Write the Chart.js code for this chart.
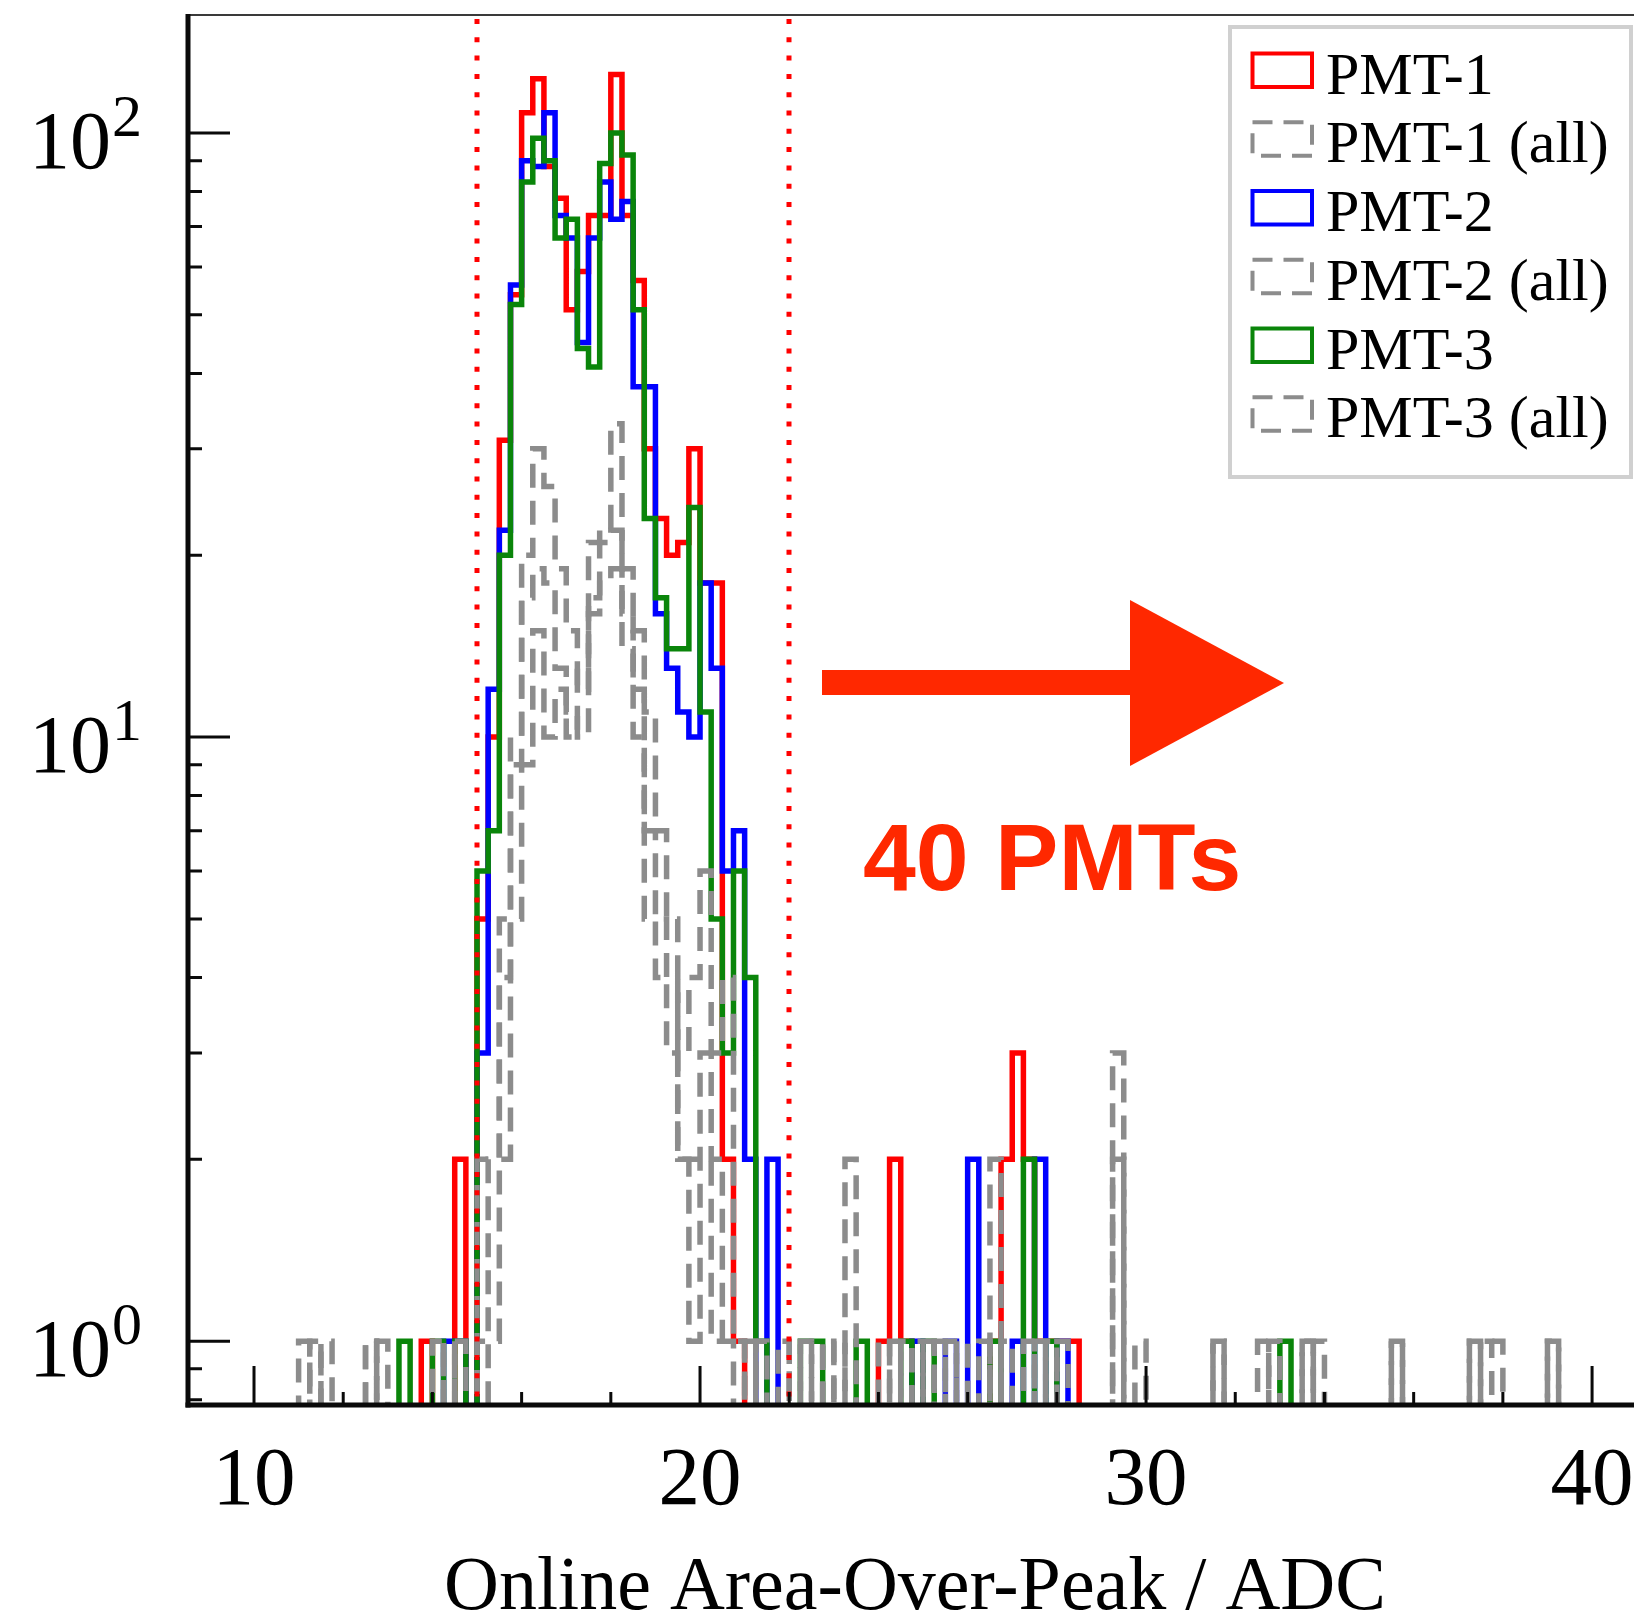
<!DOCTYPE html>
<html>
<head>
<meta charset="utf-8">
<script src="https://cdn.jsdelivr.net/npm/chart.js@4.4.1/dist/chart.umd.min.js"></script>
<style>
  html, body { margin: 0; padding: 0; background: #ffffff; overflow: hidden; }
  canvas { display: block; }
</style>
</head>
<body>
<canvas id="aop" width="1634" height="1622"></canvas>
<script>
// Binning: 120 bins of 0.25 ADC starting at 10 ADC (index 0 = 10.00-10.25)
const binStart = 10.0;
const binWidth = 0.25;

// Event counts per bin, ten bins (2.5 ADC) per row
const pmt1 = [
  0,0,0,0,0,0,0,0,0,0,
  0,0,0,0,0,1,0,0,2,0,
  5,10,31,54,108,123,88,78,51,59,
  73,73,125,73,57,30,23,20,21,30,
  18,18,2,1,0,0,0,0,0,0,
  0,0,0,0,0,0,1,2,1,0,
  0,0,0,0,0,0,1,2,3,2,
  1,1,1,1,0,0,0,0,0,0,
  0,0,0,0,0,0,0,0,0,0,
  0,0,0,0,0,0,0,0,0,0,
  0,0,0,0,0,0,0,0,0,0,
  0,0,0,0,0,0,0,0,0,0
];
const pmt1All = [
  0,0,0,0,1,0,0,0,0,0,
  1,0,0,0,0,0,1,0,0,0,
  2,2,5,10,20,30,26,19,15,12,
  21,22,33,19,15,11,7,5,3,4,
  6,3,4,1,1,0,0,1,0,0,
  1,0,0,2,0,0,0,0,1,0,
  1,0,1,0,0,0,2,0,0,0,
  1,0,0,0,0,0,0,3,0,0,
  0,0,0,0,0,0,1,0,0,0,
  1,0,0,0,1,0,0,0,0,0,
  0,0,1,0,0,0,0,0,0,1,
  1,0,0,0,0,0,1,0,0,0
];
const pmt2 = [
  0,0,0,0,0,0,0,0,0,0,
  0,0,0,0,0,0,0,1,1,0,
  3,12,22,56,90,88,108,73,67,45,
  67,83,72,77,38,38,16,13,11,10,
  18,13,6,7,2,0,2,0,0,0,
  0,0,0,0,0,0,0,0,0,1,
  0,0,1,0,2,0,0,0,1,0,
  2,0,1,0,0,0,0,0,0,0,
  0,0,0,0,0,0,0,0,0,0,
  0,0,0,0,0,0,0,0,0,0,
  0,0,0,0,0,0,0,0,0,0,
  0,0,0,0,0,0,0,0,0,0
];
const pmt2All = [
  0,0,0,0,0,0,1,0,0,0,
  0,1,0,0,0,0,0,1,0,0,
  1,2,4,9,17,19,18,13,11,10,
  16,21,22,16,12,7,5,4,2,1,
  3,2,1,1,0,1,0,0,0,1,
  0,1,0,0,0,0,0,1,0,1,
  0,1,0,0,0,0,1,0,0,1,
  0,0,1,0,0,0,0,2,0,0,
  0,0,0,0,0,0,0,0,0,0,
  0,1,0,0,0,1,0,0,0,0,
  0,0,0,0,0,0,0,0,0,0,
  1,1,0,0,0,0,0,0,0,0
];
const pmt3 = [
  0,0,0,0,0,0,0,0,0,0,
  0,0,0,1,0,0,1,0,1,0,
  6,7,20,52,83,98,90,67,72,44,
  41,89,100,92,51,23,17,14,14,24,
  11,5,3,6,4,1,0,0,0,1,
  1,0,0,0,1,0,0,0,1,0,
  1,0,0,0,0,0,1,0,0,2,
  0,1,0,0,0,0,0,0,0,0,
  0,0,0,0,0,0,0,0,0,0,
  0,0,1,0,0,0,0,0,0,0,
  0,0,0,0,0,0,0,0,0,0,
  0,0,0,0,0,0,0,0,0,0
];
const pmt3All = [
  0,0,0,0,0,1,0,0,0,0,
  1,0,0,0,0,0,0,0,1,0,
  0,1,2,5,9,15,10,12,10,13,
  17,18,19,14,10,5,4,3,2,2,
  2,1,1,0,1,0,0,0,1,0,
  0,0,1,0,0,0,1,0,0,0,
  0,0,0,1,0,1,0,1,0,0,
  0,1,0,0,0,0,0,0,0,1,
  0,0,0,0,0,0,1,0,0,0,
  0,0,0,0,1,0,0,0,0,0,
  0,0,1,0,0,0,0,0,0,1,
  0,0,0,0,0,0,1,0,0,0
];

const seriesLabels = ['PMT-1', 'PMT-1 (all)', 'PMT-2', 'PMT-2 (all)', 'PMT-3', 'PMT-3 (all)'];
const xTicks = [10, 20, 30, 40];
const xMinorTicks = [12, 14, 16, 18, 22, 24, 26, 28, 32, 34, 36, 38];
const yTicks = [1, 10, 100];
const yMinorTicks = [0.8, 0.9, 2, 3, 4, 5, 6, 7, 8, 9, 20, 30, 40, 50, 60, 70, 80, 90];
const cutValues = [15, 22];
const xTitle = 'Online Area-Over-Peak / ADC';
const noteText = '40 PMTs';

const RED = '#ff0000', BLUE = '#0000ff', GREEN = '#0a850a', GRAY = '#8c8c8c';
const DASH = [24, 13];
const EMPTY = 0.5; // empty bins fall below the visible log range

function histPoints(counts) {
  const pts = counts.map((c, i) => ({ x: binStart + i * binWidth, y: c > 0 ? c : EMPTY }));
  pts.push({ x: binStart + counts.length * binWidth, y: EMPTY });
  return pts;
}

function histDataset(label, counts, color, dashed, order) {
  return {
    label, data: histPoints(counts), order,
    borderColor: color, backgroundColor: 'transparent',
    borderWidth: 5.5, borderDash: dashed ? DASH : [],
    borderJoinStyle: 'miter', borderCapStyle: 'butt',
    stepped: true, pointRadius: 0, fill: false, tension: 0
  };
}

const SERIF = '"Liberation Serif", "Times New Roman", serif';

const decorations = {
  id: 'decorations',
  afterDraw(chart) {
    const { ctx, chartArea: a, scales: { x, y } } = chart;
    ctx.save();

    // selection cuts
    ctx.strokeStyle = RED;
    ctx.lineWidth = 5;
    ctx.setLineDash([5, 13.3]);
    cutValues.forEach(v => {
      const px = Math.round(x.getPixelForValue(v));
      ctx.beginPath();
      ctx.moveTo(px, a.top + 4);
      ctx.lineTo(px, a.bottom);
      ctx.stroke();
    });
    ctx.setLineDash([]);

    // frame: thin top border, heavy left and bottom axes
    ctx.fillStyle = '#3a3a3a';
    ctx.fillRect(a.left, a.top - 1, a.right - a.left, 2);
    ctx.fillStyle = '#0a0a0a';
    ctx.fillRect(a.left - 2.5, a.top - 1, 5, a.bottom - a.top + 3.5);
    ctx.fillRect(a.left - 2.5, a.bottom - 2.5, a.right - a.left + 2.5, 5);

    // inward tick marks
    ctx.strokeStyle = '#0a0a0a';
    ctx.lineWidth = 3;
    ctx.beginPath();
    xTicks.forEach(v => { const px = x.getPixelForValue(v); ctx.moveTo(px, a.bottom); ctx.lineTo(px, a.bottom - 39); });
    xMinorTicks.forEach(v => { const px = x.getPixelForValue(v); ctx.moveTo(px, a.bottom); ctx.lineTo(px, a.bottom - 13); });
    yTicks.forEach(v => { const py = y.getPixelForValue(v); ctx.moveTo(a.left, py); ctx.lineTo(a.left + 42, py); });
    yMinorTicks.forEach(v => { const py = y.getPixelForValue(v); ctx.moveTo(a.left, py); ctx.lineTo(a.left + 14, py); });
    ctx.stroke();

    // y tick labels as powers of ten
    ctx.fillStyle = '#000';
    yTicks.forEach(v => {
      const py = y.getPixelForValue(v);
      ctx.font = '82px ' + SERIF;
      ctx.textAlign = 'right';
      ctx.textBaseline = 'alphabetic';
      ctx.fillText('10', 111, py + 35);
      ctx.font = '60px ' + SERIF;
      ctx.textAlign = 'left';
      ctx.fillText(String(Math.round(Math.log10(v))), 112, py + 3);
    });

    // x axis title
    ctx.font = '76px ' + SERIF;
    ctx.textAlign = 'center';
    ctx.fillText(xTitle, 915, 1609);

    // legend
    const lx = 1230, ly = 27, lw = 401, lh = 450;
    ctx.fillStyle = '#ffffff';
    ctx.fillRect(lx, ly, lw, lh);
    ctx.strokeStyle = '#d0d0d0';
    ctx.lineWidth = 4;
    ctx.strokeRect(lx, ly, lw, lh);
    chart.data.datasets
      .slice()
      .sort((d1, d2) => seriesLabels.indexOf(d1.label) - seriesLabels.indexOf(d2.label))
      .forEach((ds, k) => {
        const top = 53.5 + 68.75 * k;
        ctx.strokeStyle = ds.borderColor;
        ctx.lineWidth = 4;
        ctx.setLineDash(ds.borderDash.length ? [20, 11] : []);
        ctx.strokeRect(1252.5, top, 59.5, 33.5);
        ctx.setLineDash([]);
        ctx.fillStyle = '#000';
        ctx.font = '60px ' + SERIF;
        ctx.textAlign = 'left';
        ctx.fillText(ds.label, 1326, top + 40);
      });

    // annotation arrow and note
    ctx.fillStyle = '#ff2800';
    ctx.fillRect(822, 670, 1130 - 822, 25);
    ctx.beginPath();
    ctx.moveTo(1130, 600);
    ctx.lineTo(1284, 683);
    ctx.lineTo(1130, 766);
    ctx.closePath();
    ctx.fill();
    ctx.font = 'bold 95px "Liberation Sans", Arial, sans-serif';
    ctx.textAlign = 'left';
    ctx.fillText(noteText, 863, 890);

    ctx.restore();
  }
};

new Chart(document.getElementById('aop'), {
  type: 'line',
  data: {
    datasets: [
      histDataset(seriesLabels[0], pmt1, RED, false, 6),
      histDataset(seriesLabels[1], pmt1All, GRAY, true, 3),
      histDataset(seriesLabels[2], pmt2, BLUE, false, 5),
      histDataset(seriesLabels[3], pmt2All, GRAY, true, 2),
      histDataset(seriesLabels[4], pmt3, GREEN, false, 4),
      histDataset(seriesLabels[5], pmt3All, GRAY, true, 1)
    ]
  },
  options: {
    responsive: false,
    animation: false,
    devicePixelRatio: 1,
    layout: { autoPadding: false, padding: { top: 15, right: 0, bottom: 0, left: 0 } },
    plugins: { legend: { display: false }, tooltip: { enabled: false } },
    scales: {
      x: {
        type: 'linear', min: 8.52, max: 40.94,
        grid: { display: false, drawTicks: false },
        border: { display: false },
        afterBuildTicks: s => { s.ticks = xTicks.map(v => ({ value: v })); },
        afterFit: s => { s.height = 217; },
        ticks: {
          padding: 0, color: '#000', maxRotation: 0, autoSkip: false,
          font: { family: SERIF, size: 83, lineHeight: 1.85 }
        }
      },
      y: {
        type: 'logarithmic', min: 0.784, max: 156.8,
        grid: { display: false, drawTicks: false },
        border: { display: false },
        afterBuildTicks: s => { s.ticks = yTicks.map(v => ({ value: v })); },
        afterFit: s => { s.width = 188; },
        ticks: { display: false }
      }
    }
  },
  plugins: [decorations]
});
</script>
</body>
</html>
